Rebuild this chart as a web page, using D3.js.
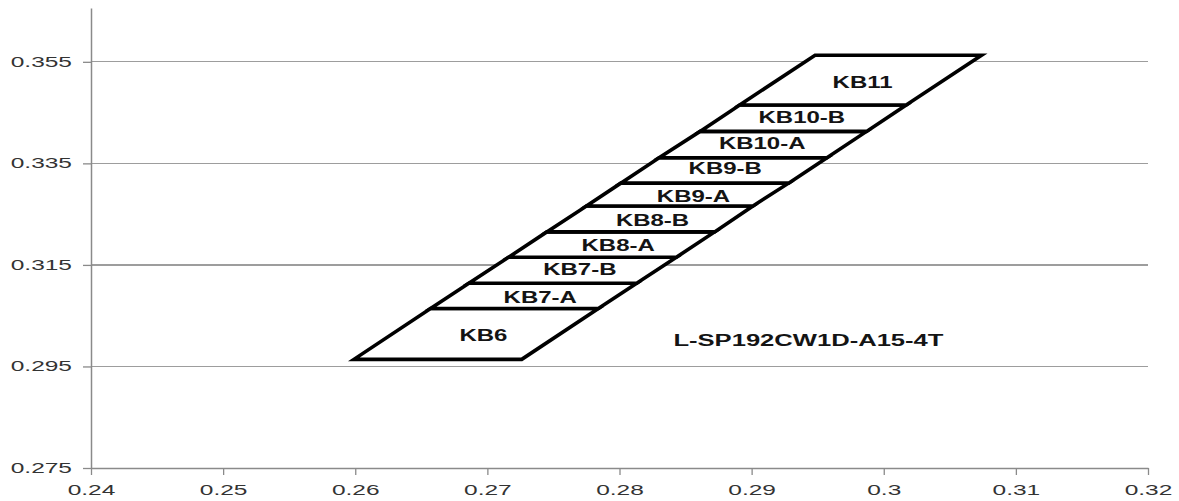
<!DOCTYPE html>
<html>
<head>
<meta charset="utf-8">
<script src="https://cdn.jsdelivr.net/npm/d3@7"></script>
<style>
  html, body { margin: 0; padding: 0; background: #ffffff; }
  svg { display: block; }
</style>
</head>
<body>
<svg id="chart" width="1179" height="501"></svg>
<script>
// ---- data ----
const xTicks = [0.24, 0.25, 0.26, 0.27, 0.28, 0.29, 0.30, 0.31, 0.32];
const xTickLabels = ["0.24", "0.25", "0.26", "0.27", "0.28", "0.29", "0.3", "0.31", "0.32"];
const yTicks = [0.275, 0.295, 0.315, 0.335, 0.355];
const yTickLabels = ["0.275", "0.295", "0.315", "0.335", "0.355"];
const xDomain = [0.24, 0.32];
const yDomain = [0.275, 0.3656];

const binNames = ["KB6", "KB7-A", "KB7-B", "KB8-A", "KB8-B", "KB9-A", "KB9-B", "KB10-A", "KB10-B", "KB11"];
// boundaries between bins, bottom to top (11 values)
const boundaryY      = [0.2964, 0.3064, 0.3114, 0.3165, 0.3215, 0.3266, 0.3311, 0.3361, 0.3413, 0.3465, 0.3563];
const boundaryLeftX  = [0.2599, 0.2657, 0.2686, 0.2716, 0.2745, 0.2775, 0.2801, 0.2830, 0.2861, 0.2891, 0.2948];
const boundaryRightX = [0.2726, 0.2784, 0.2813, 0.2843, 0.2872, 0.2901, 0.2928, 0.2957, 0.2987, 0.3017, 0.3074];
const labelX = [0.2697, 0.2740, 0.2770, 0.2799, 0.2825, 0.2856, 0.2880, 0.2908, 0.2938, 0.2984];
const labelY = [0.3012, 0.3087, 0.3142, 0.3189, 0.3238, 0.3285, 0.3341, 0.3390, 0.3441, 0.3510];

const annotationText = "L-SP192CW1D-A15-4T";
const annotationX = 0.2943;
const annotationY = 0.3002;

// ---- drawing ----
const svg = d3.select("#chart");
const x = d3.scaleLinear().domain(xDomain).range([91, 1148]);
const y = d3.scaleLinear().domain(yDomain).range([468, 8]);

const axisColor = "#8a8a8a";
const gridColor = "#9d9d9d";
const stretch = 1.5;     // horizontal stretch of the text in the picture
const tickStretch = 1.75;

// gridlines
svg.append("g").selectAll("line").data(yTicks.filter(d => d !== yDomain[0])).join("line")
  .attr("x1", x(xDomain[0])).attr("x2", x(xDomain[1]))
  .attr("y1", d => y(d)).attr("y2", d => y(d))
  .attr("stroke", gridColor).attr("stroke-width", 1.3).attr("shape-rendering", "crispEdges");

// y axis
const yAxis = d3.axisLeft(y).tickValues(yTicks)
  .tickFormat((d, i) => yTickLabels[i]).tickSizeInner(8).tickSizeOuter(0).tickPadding(11);
const gy = svg.append("g").attr("transform", `translate(${x(xDomain[0])},0)`).call(yAxis);
gy.select(".domain").attr("stroke", axisColor).attr("stroke-width", 1.5);
gy.selectAll(".tick line").attr("stroke", axisColor).attr("stroke-width", 1.3);
gy.selectAll(".tick text")
  .attr("font-family", "'Liberation Sans', Arial, sans-serif").attr("font-size", 14).attr("fill", "#333")
  .each(function () {
    const t = d3.select(this);
    const xx = +t.attr("x");
    t.attr("x", 0).attr("transform", `translate(${xx},0) scale(${tickStretch},1)`);
  });

// x axis
const xAxis = d3.axisBottom(x).tickValues(xTicks)
  .tickFormat((d, i) => xTickLabels[i]).tickSizeInner(7).tickSizeOuter(0).tickPadding(10);
const gx = svg.append("g").attr("transform", `translate(0,${y(yDomain[0])})`).call(xAxis);
gx.select(".domain").attr("stroke", axisColor).attr("stroke-width", 1.5);
gx.selectAll(".tick line").attr("stroke", axisColor).attr("stroke-width", 1.3);
gx.selectAll(".tick text")
  .attr("font-family", "'Liberation Sans', Arial, sans-serif").attr("font-size", 14).attr("fill", "#333")
  .attr("transform", `scale(${tickStretch},1)`);

// bins
const bins = binNames.map((name, i) => ({
  name,
  pts: [
    [boundaryLeftX[i], boundaryY[i]],
    [boundaryRightX[i], boundaryY[i]],
    [boundaryRightX[i + 1], boundaryY[i + 1]],
    [boundaryLeftX[i + 1], boundaryY[i + 1]]
  ],
  lx: labelX[i], ly: labelY[i]
}));

const line = d3.line().x(d => x(d[0])).y(d => y(d[1])).curve(d3.curveLinearClosed);
svg.append("g").selectAll("path").data(bins).join("path")
  .attr("d", d => line(d.pts))
  .attr("fill", "#ffffff").attr("stroke", "#000").attr("stroke-width", 3.6)
  .attr("stroke-linejoin", "miter");

svg.append("g").selectAll("text").data(bins).join("text")
  .attr("transform", d => `translate(${x(d.lx)},${y(d.ly)}) scale(${stretch},1)`)
  .attr("text-anchor", "middle").attr("dy", "0.36em")
  .attr("font-family", "'Liberation Sans', Arial, sans-serif").attr("font-weight", "bold")
  .attr("font-size", 16).attr("fill", "#141414")
  .text(d => d.name);

svg.append("text")
  .attr("transform", `translate(${x(annotationX)},${y(annotationY)}) scale(1.6,1)`)
  .attr("text-anchor", "middle").attr("dy", "0.36em")
  .attr("font-family", "'Liberation Sans', Arial, sans-serif").attr("font-weight", "bold")
  .attr("font-size", 16).attr("fill", "#141414")
  .text(annotationText);
</script>
</body>
</html>
